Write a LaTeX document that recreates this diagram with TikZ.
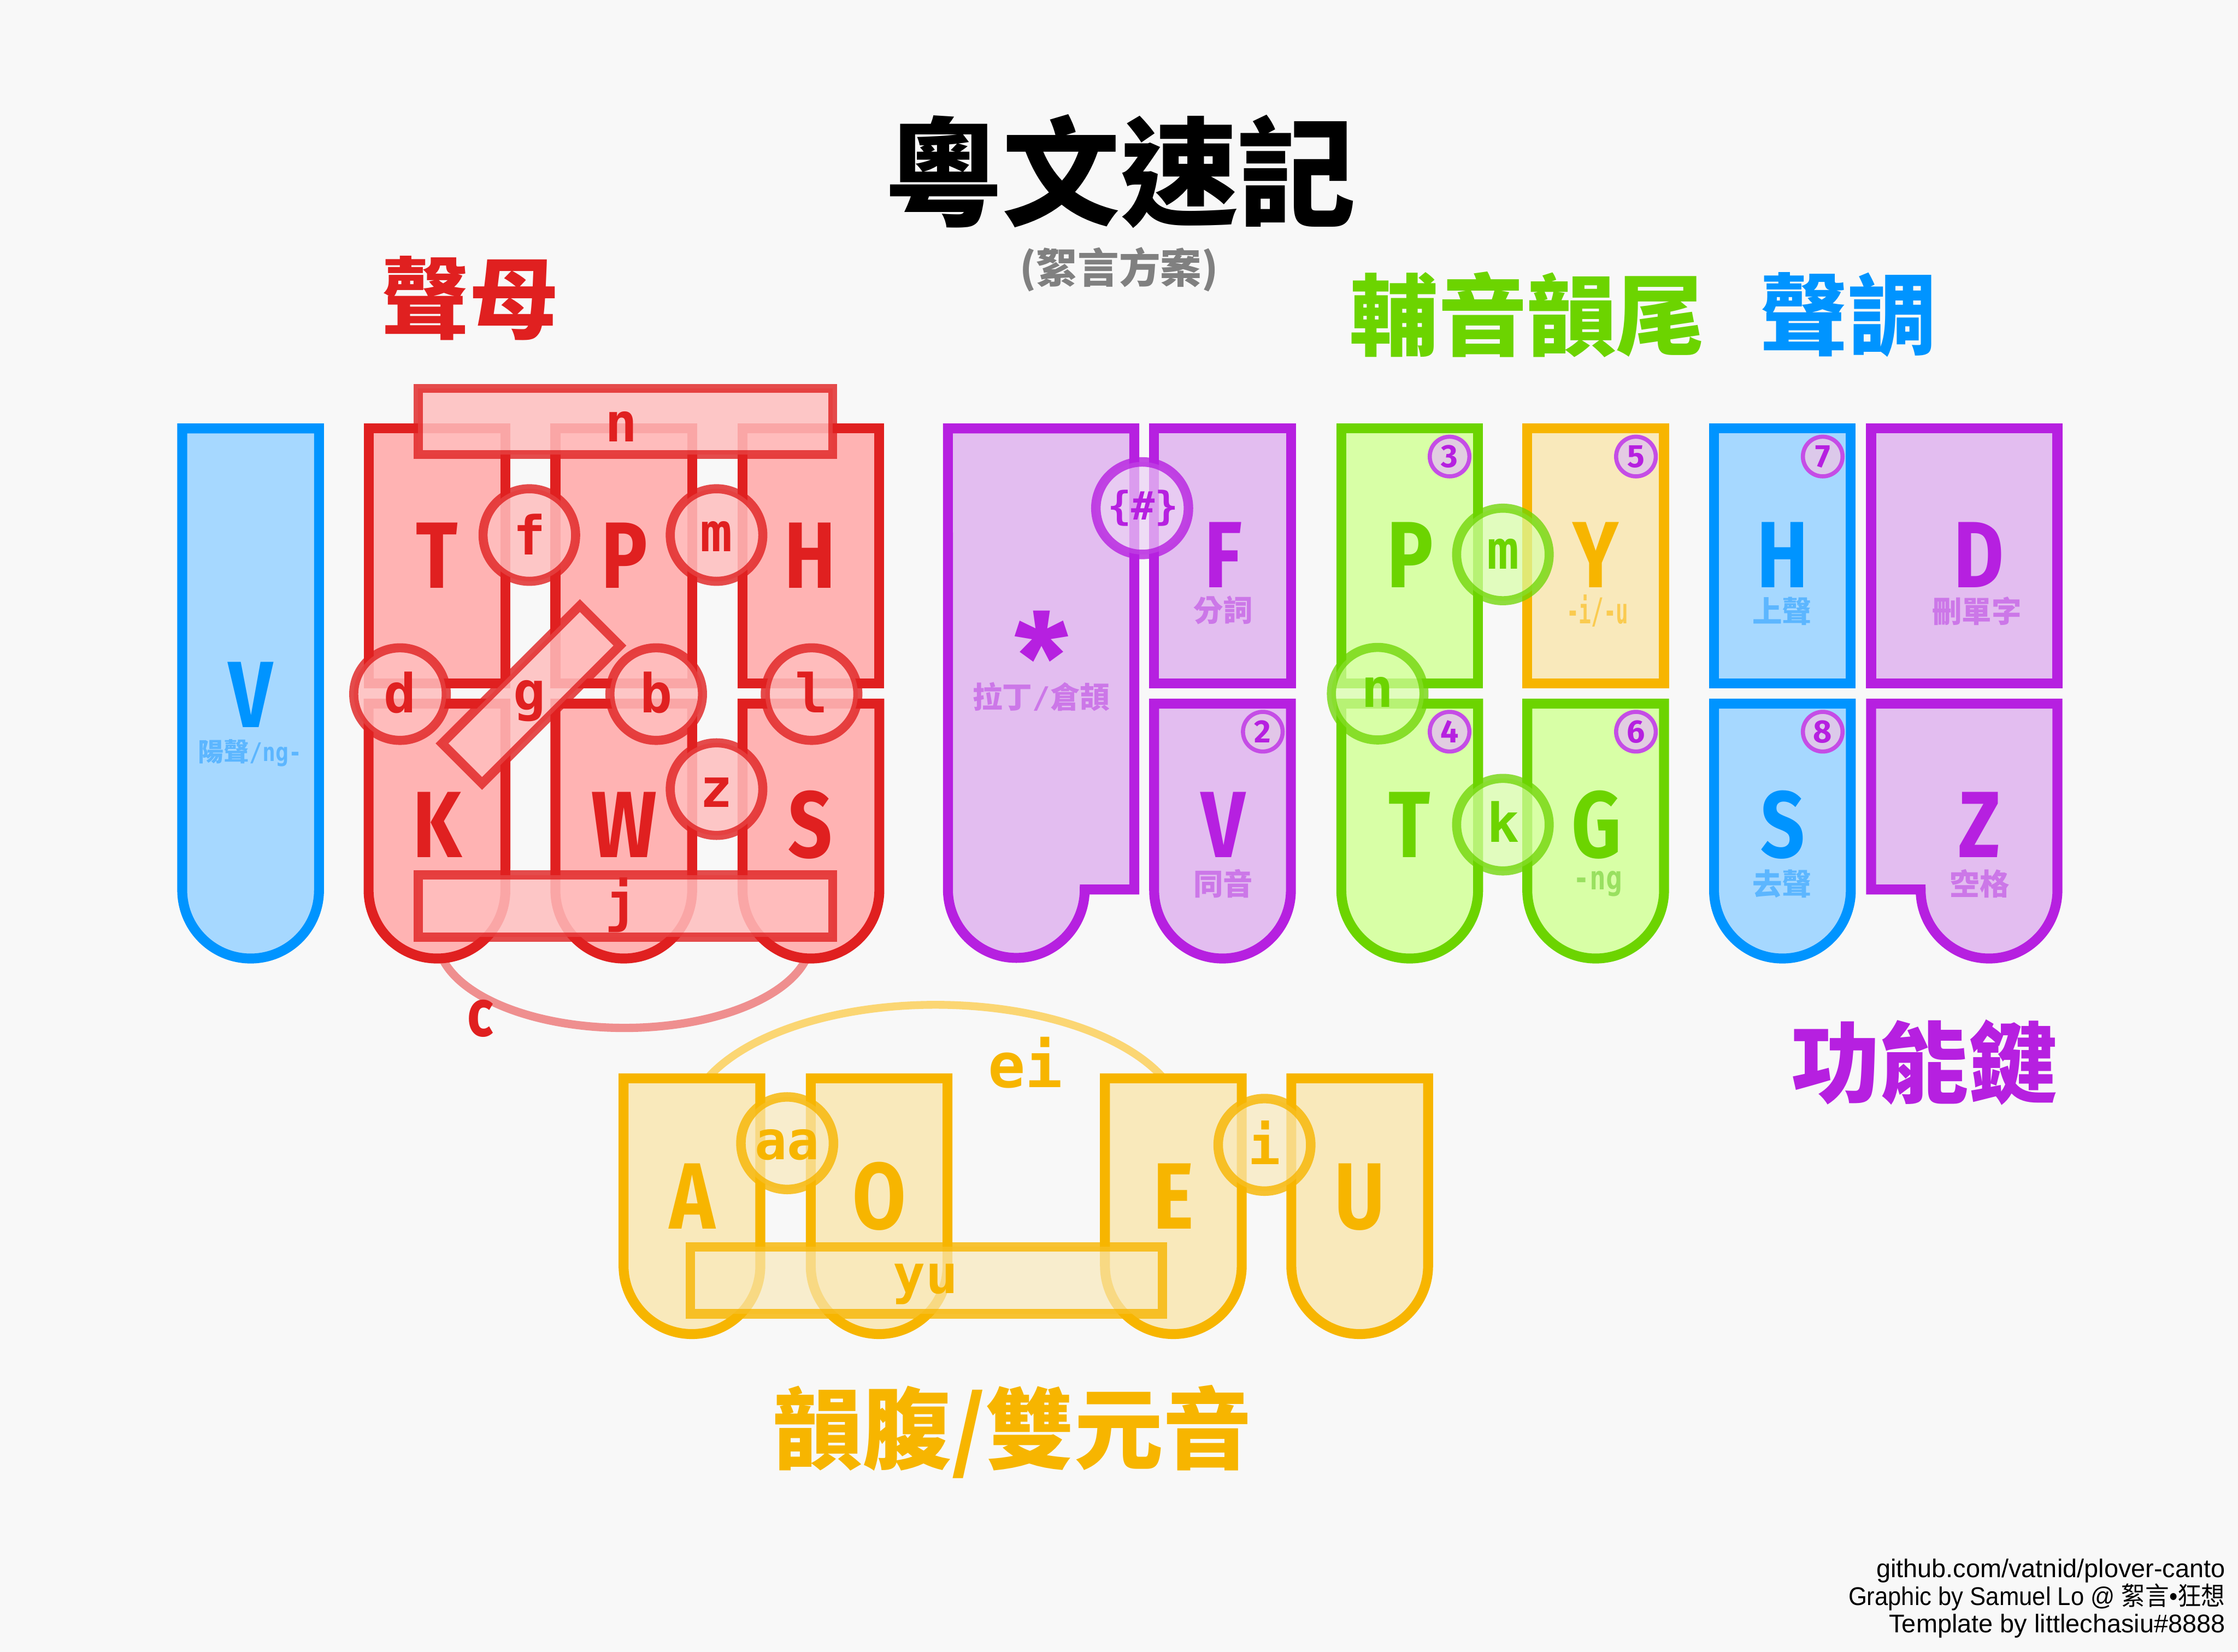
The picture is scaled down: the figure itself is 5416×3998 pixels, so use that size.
\documentclass[tikz,border=0pt]{standalone}
\usepackage{graphicx}
\usepackage{fontspec}
\setmainfont{Fira Sans}
\newfontfamily\cjk{Noto Sans CJK TC}
\newfontfamily\mono{DejaVu Sans Mono}
\newfontfamily\footfont{Liberation Sans}
\definecolor{bgc}{HTML}{F8F8F8}
\definecolor{rS}{HTML}{E02020}
\definecolor{rF}{HTML}{FFB3B3}
\definecolor{bS}{HTML}{0094FF}
\definecolor{bF}{HTML}{A6D8FF}
\definecolor{bT}{HTML}{5CB6FF}
\definecolor{pS}{HTML}{B620E0}
\definecolor{pF}{HTML}{E3BDF0}
\definecolor{pT}{HTML}{CC77E8}
\definecolor{gS}{HTML}{6CD400}
\definecolor{gF}{HTML}{D8FFA6}
\definecolor{gT}{HTML}{99E060}
\definecolor{oS}{HTML}{F7B500}
\definecolor{oF}{HTML}{F9E9BB}
\definecolor{oT}{HTML}{FACB50}
\definecolor{numF}{HTML}{E2C8E8}
\definecolor{grayT}{HTML}{808080}
\newcommand\KeyUp[2]{\draw[#2] (#1,1037) rectangle ++(331,617);}
\newcommand\KeyRd[4]{\draw[#4] (#1,#2) -- (#1,#3) arc[start angle=180,end angle=360,radius=16.55pt] -- (#1+331,#2) -- cycle;}
\newcommand\BL[1]{\scalebox{0.82}[1]{#1}}
\tikzset{
  keyR/.style={draw=rS, fill=rF, line width=2.4pt},
  keyB/.style={draw=bS, fill=bF, line width=2.4pt},
  keyP/.style={draw=pS, fill=pF, line width=2.4pt},
  keyG/.style={draw=gS, fill=gF, line width=2.4pt},
  keyO/.style={draw=oS, fill=oF, line width=2.4pt},
  ovR/.style={draw=rS, draw opacity=0.8, fill=rF!85!white, fill opacity=0.85, line width=2.2pt},
  ovG/.style={draw=gS, draw opacity=0.75, fill=gF, fill opacity=0.7, line width=2.2pt},
  ovO/.style={draw=oS, draw opacity=0.8, fill=oF, fill opacity=0.7, line width=2.3pt},
  ovP/.style={draw=pS, draw opacity=0.8, fill=pF!70!white, fill opacity=0.7, line width=2.3pt},
  numc/.style={draw=pS!80!white, fill=numF, fill opacity=0.9, line width=1pt},
  carc/.style={draw=rS!50!white, line width=2pt},
  oarc/.style={draw=oS!55!white, line width=1.9pt},
  txt/.style={inner sep=0pt, outer sep=0pt},
  big/.style={txt, anchor=base, font=\bfseries\fontsize{22.8}{22.8}\selectfont},
  ov/.style={txt, anchor=base, font=\mono\bfseries\fontsize{13}{13}\selectfont},
  sub/.style={txt, anchor=center, font=\cjk\bfseries\fontsize{7.2}{7.2}\selectfont},
  num/.style={txt, anchor=center, text=pS, font=\bfseries\fontsize{7.8}{7.8}\selectfont},
  head/.style={txt, anchor=center, font=\cjk\bfseries\fontsize{21.5}{21.5}\selectfont},
  foot/.style={txt, anchor=base east, font=\footfont\fontsize{6.2}{6.2}\selectfont},
}
\begin{document}
\begin{tikzpicture}[x=0.1pt,y=-0.1pt]
\useasboundingbox (0,0) rectangle (5416,3998);
\fill[bgc] (0,0) rectangle (5416,3998);
% arcs behind keys
\draw[carc] (1963,2271) arc[start angle=0,end angle=-180,x radius=45.2pt,y radius=21.7pt];
\draw[oarc] (1664,2725) arc[start angle=180,end angle=0,x radius=60pt,y radius=29.3pt];
% blue V
\KeyRd{441}{1037}{2154.5}{keyB}
% red keys
\KeyUp{892}{keyR}
\KeyUp{1344}{keyR}
\KeyUp{1797}{keyR}
\KeyRd{892}{1703}{2154.5}{keyR}
\KeyRd{1344}{1703}{2154.5}{keyR}
\KeyRd{1797}{1703}{2154.5}{keyR}
% star key
\draw[keyP] (2294,1037) -- (2745,1037) -- (2745,2153) -- (2625,2153) arc[start angle=0,end angle=-180,radius=16.55pt] -- cycle;
\KeyUp{2793}{keyP}
\KeyRd{2793}{1703}{2154.5}{keyP}
% right bank
\KeyUp{3246}{keyG}
\KeyUp{3696}{keyO}
\KeyUp{4148}{keyB}
\draw[keyP] (4528,1037) rectangle (4979,1654);
\KeyRd{3246}{1703}{2154.5}{keyG}
\KeyRd{3696}{1703}{2154.5}{keyG}
\KeyRd{4148}{1703}{2154.5}{keyB}
\draw[keyP] (4528,1703) -- (4979,1703) -- (4979,2154.5) arc[start angle=0,end angle=-180,radius=16.55pt] -- (4648,2153) -- (4528,2153) -- cycle;
% vowels
\KeyRd{1509}{2610}{3063.5}{keyO}
\KeyRd{1962}{2610}{3063.5}{keyO}
\KeyRd{2674}{2610}{3063.5}{keyO}
\KeyRd{3125}{2610}{3063.5}{keyO}
% red overlays
\draw[ovR] (1012,940) rectangle (2015,1100);
\draw[ovR] (1012,2118) rectangle (2015,2268);
\draw[ovR, rotate around={45:(1285,1681)}] (1049,1612.5) rectangle (1521,1749.5);
\draw[ovR] (1281,1295) circle[radius=11.2pt];
\draw[ovR] (1734,1295) circle[radius=11.2pt];
\draw[ovR] (968,1680) circle[radius=11.2pt];
\draw[ovR] (1588,1680) circle[radius=11.2pt];
\draw[ovR] (1964,1680) circle[radius=11.2pt];
\draw[ovR] (1734,1910) circle[radius=11.2pt];
% purple overlay
\draw[ovP] (2764,1230) circle[radius=11.2pt];
% green overlays
\draw[ovG] (3637,1342) circle[radius=11.2pt];
\draw[ovG] (3334,1679) circle[radius=11.2pt];
\draw[ovG] (3637,1996) circle[radius=11.2pt];
% orange overlays
\draw[ovO] (1671,3018) rectangle (2813,3180);
\draw[ovO] (1905,2767) circle[radius=11.2pt];
\draw[ovO] (3060,2771) circle[radius=11.2pt];
% number circles
\draw[numc] (3056,1771) circle[radius=4.8pt];
\draw[numc] (3508,1105) circle[radius=4.8pt];
\draw[numc] (3959,1105) circle[radius=4.8pt];
\draw[numc] (4411,1105) circle[radius=4.8pt];
\draw[numc] (3508,1771) circle[radius=4.8pt];
\draw[numc] (3959,1771) circle[radius=4.8pt];
\draw[numc] (4411,1771) circle[radius=4.8pt];
% ---------- texts
\node[txt, anchor=center, font=\cjk\bfseries\fontsize{28.5}{28.5}\selectfont] (title) at (2711,415) {粵文速記};
\node[txt, anchor=center, text=grayT, font=\cjk\bfseries\fontsize{10}{10}\selectfont] (subtitle) at (2708,652) {(絮言方案)};
\node[head, text=rS] (hInit) at (1137,722) {聲母};
\node[head, text=gS] (hFinal) at (3696,762) {輔音韻尾};
\node[head, text=bS] (hTone) at (4473,762) {聲調};
\node[head, text=pS] (hFunc) at (4657,2571) {功能鍵};
\node[head, text=oS] (hVowel) at (2451,3466) {韻腹/雙元音};
% big letters
\node[big, text=bS] (lV) at (607,1761) {\BL{V}};
\node[big, text=rS] (lT) at (1058,1423) {\BL{T}};
\node[big, text=rS] (lP) at (1511,1423) {\BL{P}};
\node[big, text=rS] (lH) at (1961,1423) {\BL{H}};
\node[big, text=rS] (lK) at (1058,2075) {\BL{K}};
\node[big, text=rS] (lW) at (1510,2075) {\BL{W}};
\node[big, text=rS] (lS) at (1961,2075) {\BL{S}};
\node[txt, anchor=center, text=pS, font=\bfseries\fontsize{30}{30}\selectfont] (lStar) at (2521,1590) {*};
\node[big, text=pS] (lF) at (2960,1422) {\BL{F}};
\node[big, text=pS] (lV2) at (2960,2075) {\BL{V}};
\node[big, text=gS] (lP2) at (3412,1422) {\BL{P}};
\node[big, text=oS] (lY) at (3862,1422) {\BL{Y}};
\node[big, text=bS] (lH2) at (4314,1422) {\BL{H}};
\node[big, text=pS] (lD) at (4788,1422) {\BL{D}};
\node[big, text=gS] (lT2) at (3411,2075) {\BL{T}};
\node[big, text=gS] (lG) at (3864,2075) {\BL{G}};
\node[big, text=bS] (lS2) at (4314,2075) {\BL{S}};
\node[big, text=pS] (lZ) at (4790,2075) {\BL{Z}};
\node[big, text=oS] (lA) at (1675,2974) {\BL{A}};
\node[big, text=oS] (lO) at (2128,2974) {\BL{O}};
\node[big, text=oS] (lE) at (2840,2974) {\BL{E}};
\node[big, text=oS] (lU) at (3291,2974) {\BL{U}};
% sub labels
\node[sub, text=bT, font=\cjk\bfseries\fontsize{6.2}{6.2}\selectfont] (sV) at (605,1823) {陽聲{\mono\scalebox{0.85}[1]{/ng-}}};
\node[sub, text=pT] (sStar) at (2520,1686) {拉丁{\mono /}倉頡};
\node[sub, text=pT] (sF) at (2960,1477) {分詞};
\node[sub, text=pT] (sV2) at (2960,2139) {同音};
\node[sub, text=oT, font=\mono\bfseries\fontsize{8.6}{8.6}\selectfont] (sY) at (3866,1478) {\scalebox{0.58}[1]{-i/-u}};
\node[sub, text=bT] (sH) at (4313,1479) {上聲};
\node[sub, text=pT] (sD) at (4784,1479) {刪單字};
\node[sub, text=gT, font=\mono\bfseries\fontsize{8}{8}\selectfont] (sG) at (3867,2139) {\scalebox{0.82}[1]{-ng}};
\node[sub, text=bT] (sS) at (4313,2139) {去聲};
\node[sub, text=pT] (sZ) at (4791,2139) {空格};
% overlay letters
\node[ov, text=rS] (on) at (1504,1069) {n};
\node[ov, text=rS] (oj) at (1504,2230) {j};
\node[ov, text=rS] (of) at (1281,1343) {f};
\node[ov, text=rS] (om) at (1734,1335) {m};
\node[ov, text=rS] (od) at (968,1725) {d};
\node[ov, text=rS] (og) at (1281,1719) {g};
\node[ov, text=rS] (ob) at (1588,1725) {b};
\node[ov, text=rS] (ol) at (1964,1725) {l};
\node[ov, text=rS] (oz) at (1734,1953) {z};
\node[txt, anchor=base, text=rS, font=\bfseries\fontsize{16}{16}\selectfont] (oc) at (1162,2508) {\BL{c}};
\node[txt, anchor=center, text=pS, font=\mono\bfseries\fontsize{9.5}{9.5}\selectfont] (ohash) at (2766,1230) {\{\#\}};
\node[ov, text=gS] (om2) at (3637,1377) {m};
\node[ov, text=gS] (on2) at (3334,1712) {n};
\node[ov, text=gS] (ok) at (3637,2038) {k};
\node[ov, text=oS] (oaa) at (1905,2806) {aa};
\node[ov, text=oS] (oi) at (3060,2818) {i};
\node[ov, text=oS] (oyu) at (2240,3130) {yu};
\node[ov, text=oS, font=\mono\bfseries\fontsize{15}{15}\selectfont] (oei) at (2481,2632) {ei};
% numbers
\node[num] (n2) at (3056,1771) {2};
\node[num] (n3) at (3508,1105) {3};
\node[num] (n5) at (3959,1105) {5};
\node[num] (n7) at (4411,1105) {7};
\node[num] (n4) at (3508,1771) {4};
\node[num] (n6) at (3959,1771) {6};
\node[num] (n8) at (4411,1771) {8};
% footer
\node[foot] (f1) at (5385,3818) {github.com/vatnid/plover-canto};
\node[foot] (f2) at (5385,3885) {\scalebox{0.93}[1]{Graphic by Samuel Lo @ {\cjk 絮言}•{\cjk 狂想}}};
\node[foot] (f3) at (5385,3952) {Template by littlechasiu\#8888};
\end{tikzpicture}
\end{document}
